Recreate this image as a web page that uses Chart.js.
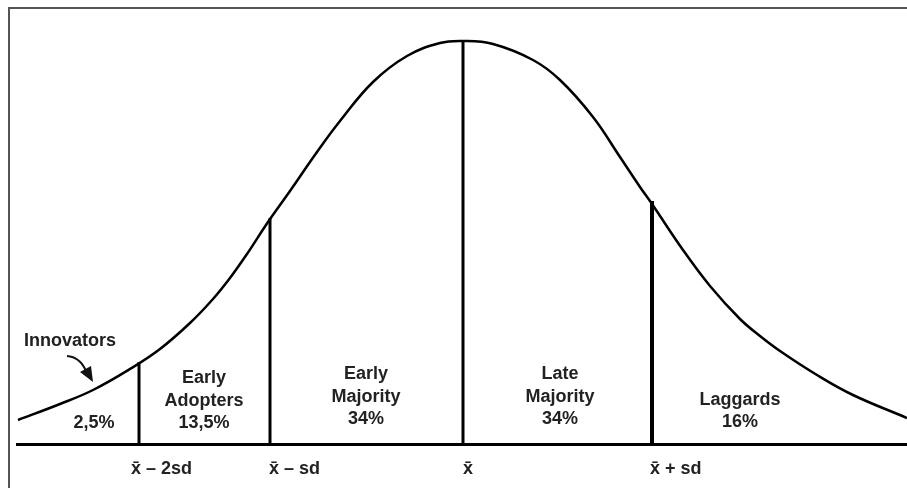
<!DOCTYPE html>
<html>
<head>
<meta charset="utf-8">
<script src="https://cdn.jsdelivr.net/npm/chart.js@4.4.1/dist/chart.umd.min.js"></script>
<style>
html, body { margin: 0; padding: 0; background: #fff; }
canvas { display: block; }
</style>
</head>
<body>
<canvas id="grafica" width="907" height="488"></canvas>
<script>
// curve (x along the axis, height above the baseline)
var curveX = [18, 60, 93, 130, 160, 190, 213, 230, 247, 268, 290, 317, 340, 373, 407, 440, 463, 493, 533, 560, 593, 620, 640, 652, 683, 710, 740, 760, 780, 817, 853, 907];
var curveY = [24, 40, 54, 75, 95, 121, 145, 166, 190, 222, 253, 292, 323, 362, 388, 401, 403, 400, 384, 364, 327, 287, 257, 240, 194, 158, 125, 108, 93, 69, 49, 26];

// vertical dividers between the groups
var dividerX = [139, 270, 463, 652];
var dividerY = [82, 226, 403, 243];

// axis labels
var tickPos = [131, 269, 463, 650];
var tickLabels = ["x̄ – 2sd", "x̄ – sd", "x̄", "x̄ + sd"];

// group names and shares
var groupNames = [["2,5%"], ["Early", "Adopters", "13,5%"], ["Early", "Majority", "34%"], ["Late", "Majority", "34%"], ["Laggards", "16%"]];
var groupCenter = [94, 204, 366, 560, 740];

var FONT = "bold 18px 'Liberation Sans', Arial, sans-serif";

var curvePoints = curveX.map(function (x, i) { return { x: x, y: curveY[i] }; });

var datasets = [{
    data: curvePoints,
    borderColor: "#000",
    borderWidth: 2.5,
    pointRadius: 0,
    tension: 0.4,
    fill: false
}];
var widths = [3, 3, 3, 4];
dividerX.forEach(function (x, i) {
    datasets.push({
        data: [{ x: x, y: 0 }, { x: x, y: dividerY[i] }],
        borderColor: "#000",
        borderWidth: widths[i],
        pointRadius: 0,
        tension: 0
    });
});

// text, frame and arrow
var extras = {
    id: "extras",
    beforeDraw: function (chart) {
        var c = chart.ctx;
        c.save();
        c.fillStyle = "#fff";
        c.fillRect(0, 0, chart.width, chart.height);
        c.restore();
    },
    afterDraw: function (chart) {
        var c = chart.ctx;
        var xs = chart.scales.x;
        c.save();
        // frame
        c.strokeStyle = "#555";
        c.lineWidth = 2;
        c.beginPath();
        c.moveTo(9, chart.height);
        c.lineTo(9, 8);
        c.lineTo(chart.width, 8);
        c.stroke();

        c.font = FONT;
        c.fillStyle = "#222";
        c.textAlign = "center";
        c.textBaseline = "alphabetic";
        var bottoms = [428, 428, 424, 424, 427];
        groupNames.forEach(function (lines, i) {
            var px = xs.getPixelForValue(groupCenter[i]);
            var n = lines.length;
            lines.forEach(function (t, k) {
                c.fillText(t, px, bottoms[i] - (n - 1 - k) * 22.5);
            });
        });

        c.textAlign = "left";
        c.fillText("Innovators", 24, 346);

        // arrow
        c.strokeStyle = "#111";
        c.lineWidth = 2;
        c.beginPath();
        c.moveTo(67, 356);
        c.quadraticCurveTo(80, 357, 86, 371);
        c.stroke();
        c.fillStyle = "#111";
        c.beginPath();
        c.moveTo(93, 382);
        c.lineTo(80, 372);
        c.lineTo(91, 366);
        c.closePath();
        c.fill();
        c.restore();
    }
};

var ctx = document.getElementById("grafica").getContext("2d");
var chart = new Chart(ctx, {
    type: "line",
    data: { datasets: datasets },
    plugins: [extras],
    options: {
        responsive: false,
        animation: false,
        devicePixelRatio: 1,
        layout: { padding: { left: 17, top: 20, right: 0, bottom: 0 } },
        plugins: { legend: { display: false }, tooltip: { enabled: false } },
        scales: {
            x: {
                type: "linear",
                min: 17,
                max: 907,
                afterFit: function (s) { s.height = 44; },
                afterBuildTicks: function (s) {
                    s.ticks = tickPos.map(function (v) { return { value: v }; });
                },
                grid: { display: false, drawTicks: false },
                border: { display: true, color: "#000", width: 3 },
                ticks: {
                    autoSkip: false,
                    maxRotation: 0,
                    align: "start",
                    padding: 14,
                    color: "#222",
                    font: { family: "'Liberation Sans', Arial, sans-serif", size: 18, weight: "bold" },
                    callback: function (v, i) { return tickLabels[i]; }
                }
            },
            y: {
                display: false,
                min: 0,
                max: 424
            }
        }
    }
});
</script>
</body>
</html>
